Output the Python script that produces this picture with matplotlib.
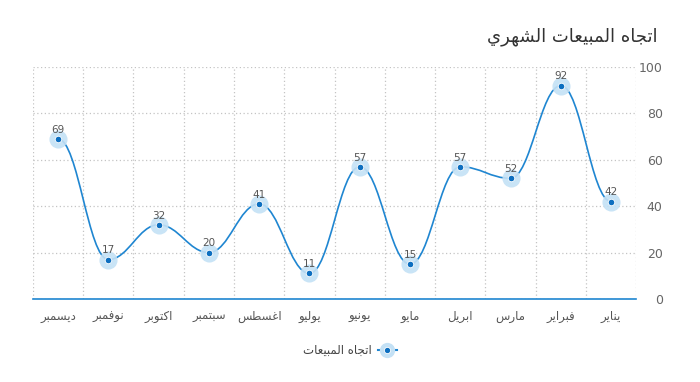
import numpy as np
import matplotlib
matplotlib.use('Agg')
import matplotlib.pyplot as plt
from matplotlib.path import Path
from matplotlib.patches import PathPatch
from matplotlib.lines import Line2D

plt.rcParams['font.family'] = ['DejaVu Sans']

# Data (Jan .. Dec)
months = ['يناير', 'فبراير', 'مارس', 'ابريل', 'مايو', 'يونيو',
          'يوليو', 'اغسطس', 'سبتمبر', 'اكتوبر', 'نوفمبر', 'ديسمبر']
sales = [42, 92, 52, 57, 15, 57, 11, 41, 20, 32, 17, 69]
y_ticks = [0, 20, 40, 60, 80, 100]
title = 'اتجاه المبيعات الشهري'
series_name = 'اتجاه المبيعات'

# Simple Arabic shaping (matplotlib has no complex text layout)
forms = {
    'ا': ('\uFE8D', '\uFE8E', None, None),
    'ب': ('\uFE8F', '\uFE90', '\uFE91', '\uFE92'),
    'ت': ('\uFE95', '\uFE96', '\uFE97', '\uFE98'),
    'ج': ('\uFE9D', '\uFE9E', '\uFE9F', '\uFEA0'),
    'د': ('\uFEA9', '\uFEAA', None, None),
    'ر': ('\uFEAD', '\uFEAE', None, None),
    'س': ('\uFEB1', '\uFEB2', '\uFEB3', '\uFEB4'),
    'ش': ('\uFEB5', '\uFEB6', '\uFEB7', '\uFEB8'),
    'ط': ('\uFEC1', '\uFEC2', '\uFEC3', '\uFEC4'),
    'ع': ('\uFEC9', '\uFECA', '\uFECB', '\uFECC'),
    'غ': ('\uFECD', '\uFECE', '\uFECF', '\uFED0'),
    'ف': ('\uFED1', '\uFED2', '\uFED3', '\uFED4'),
    'ك': ('\uFED9', '\uFEDA', '\uFEDB', '\uFEDC'),
    'ل': ('\uFEDD', '\uFEDE', '\uFEDF', '\uFEE0'),
    'م': ('\uFEE1', '\uFEE2', '\uFEE3', '\uFEE4'),
    'ن': ('\uFEE5', '\uFEE6', '\uFEE7', '\uFEE8'),
    'ه': ('\uFEE9', '\uFEEA', '\uFEEB', '\uFEEC'),
    'و': ('\uFEED', '\uFEEE', None, None),
    'ي': ('\uFEF1', '\uFEF2', '\uFEF3', '\uFEF4'),
}


def shape(text):
    out = []
    for i, ch in enumerate(text):
        if ch not in forms:
            out.append(ch)
            continue
        prev = text[i - 1] if i > 0 else ''
        nxt = text[i + 1] if i < len(text) - 1 else ''
        join_prev = prev in forms and forms[prev][2] is not None
        join_next = nxt in forms and forms[ch][2] is not None
        iso, fin, ini, med = forms[ch]
        if join_prev and join_next:
            out.append(med)
        elif join_prev:
            out.append(fin)
        elif join_next:
            out.append(ini)
        else:
            out.append(iso)
    return ''.join(out)[::-1]


line_col = '#1f86d1'
dot_col = '#0d6fc0'
halo_col = '#c4e1f5'
grid_col = '#c4c4c4'

fig = plt.figure(figsize=(7, 3.82), dpi=100)
ax = fig.add_axes([0.047, 0.2173, 0.862, 0.6073])

x = np.arange(len(sales))
y = np.array(sales, dtype=float)

# spline: control points, flat at extremes and at both ends
n = len(x)
sm = 1.5
k = 1 / (sm + 1)
lc = [None] * n
rc = [None] * n
rc[0] = (x[0] + k, y[0])
lc[n - 1] = (x[n - 1] - k, y[n - 1])
for i in range(1, n - 1):
    lx = (sm * x[i] + x[i - 1]) / (sm + 1)
    ly = (sm * y[i] + y[i - 1]) / (sm + 1)
    rx = (sm * x[i] + x[i + 1]) / (sm + 1)
    ry = (sm * y[i] + y[i + 1]) / (sm + 1)
    corr = (ry - ly) * (rx - x[i]) / (rx - lx) + y[i] - ry
    ly += corr
    ry += corr
    if ly > max(y[i - 1], y[i]):
        ly = max(y[i - 1], y[i]); ry = 2 * y[i] - ly
    elif ly < min(y[i - 1], y[i]):
        ly = min(y[i - 1], y[i]); ry = 2 * y[i] - ly
    if ry > max(y[i + 1], y[i]):
        ry = max(y[i + 1], y[i]); ly = 2 * y[i] - ry
    elif ry < min(y[i + 1], y[i]):
        ry = min(y[i + 1], y[i]); ly = 2 * y[i] - ry
    lc[i] = (lx, ly)
    rc[i] = (rx, ry)

verts = [(x[0], y[0])]
codes = [Path.MOVETO]
for i in range(1, n):
    verts += [rc[i - 1], lc[i], (x[i], y[i])]
    codes += [Path.CURVE4] * 3
ax.add_patch(PathPatch(Path(verts, codes), fill=False, edgecolor=line_col, lw=1.2, zorder=3))

ax.scatter(x, y, s=170, color=halo_col, alpha=0.9, zorder=4, linewidths=0)
ax.scatter(x, y, s=22, color=dot_col, zorder=5, edgecolors='white', linewidths=0.6)

for xi, yi in zip(x, sales):
    ax.annotate(str(yi), (xi, yi), xytext=(0, 3), textcoords='offset points',
                ha='center', va='bottom', fontsize=7.5, color='#555555', zorder=6)

ax.set_xlim(len(sales) - 0.5, -0.5)
ax.set_ylim(0, 100)
ax.set_xticks(x)
ax.set_xticklabels([shape(m) for m in months], fontsize=8.5, color='#555555')
ax.set_xticks(np.arange(-0.5, len(sales)), minor=True)
ax.set_yticks(y_ticks)
ax.yaxis.tick_right()
ax.set_yticklabels([str(v) for v in y_ticks], fontsize=9, color='#666666')
for lab in ax.get_yticklabels():
    lab.set_horizontalalignment('right')
ax.tick_params(axis='y', length=0, pad=19)
ax.tick_params(axis='x', which='both', length=0, pad=8)

ax.grid(True, axis='y', which='major', color=grid_col, linestyle=(0, (1, 2)), lw=0.9)
ax.grid(True, axis='x', which='minor', color=grid_col, linestyle=(0, (1, 2)), lw=0.9)
ax.grid(False, axis='x', which='major')
for side in ['top', 'left', 'right']:
    ax.spines[side].set_visible(False)
ax.spines['bottom'].set_color(line_col)
ax.spines['bottom'].set_linewidth(1.2)
ax.set_axisbelow(True)

fig.text(0.939, 0.903, shape(title), ha='right', va='center', fontsize=13, color='#333333')

h_line = Line2D([], [], color=line_col, lw=1.5)
h_halo = Line2D([], [], marker='o', ls='', ms=11, color=halo_col, mew=0)
h_dot = Line2D([], [], marker='o', ls='', ms=4.5, color=dot_col, mec='white', mew=0.6)
fig.legend([(h_line, h_halo, h_dot)], [shape(series_name)], loc='center',
           bbox_to_anchor=(0.5, 0.082), frameon=False, markerfirst=False,
           fontsize=8.5, handlelength=1.6, handletextpad=0.5, labelcolor='#444444')

fig.savefig('out.png', dpi=100)
